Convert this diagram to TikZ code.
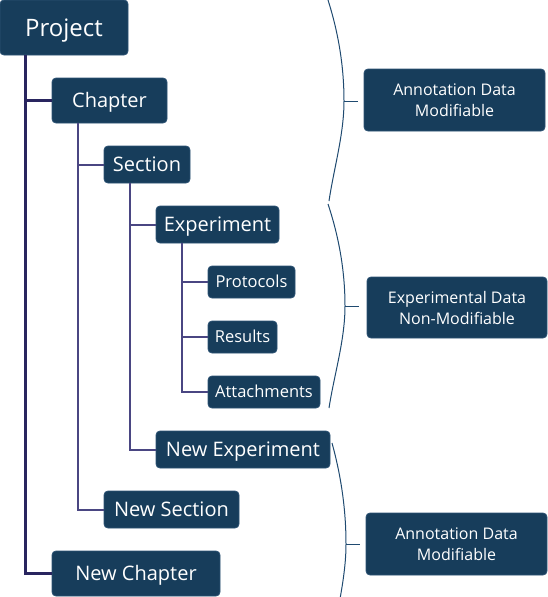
\documentclass[tikz,border=0pt]{standalone}
\usepackage{fontspec}
\setmainfont{Open Sans}
\definecolor{boxfill}{HTML}{173D5B}
\definecolor{boxline}{HTML}{2C5273}
\definecolor{trunkA}{HTML}{29255F}
\definecolor{trunkB}{HTML}{4A4682}
\definecolor{bracecol}{HTML}{1F4A70}
\begin{document}
\begin{tikzpicture}[x=1pt,y=-1pt,
  box/.style={fill=boxfill,draw=boxline,line width=0.8pt,rounded corners=4pt,text=white,inner sep=0pt,anchor=center,align=center},
  bigfont/.style={font=\fontsize{24}{28}\selectfont,text height=17.3pt,text depth=0pt},
  midfont/.style={font=\fontsize{20}{24}\selectfont,text height=14.4pt,text depth=0pt},
  smallfont/.style={font=\fontsize{16.5}{20}\selectfont,text height=11.9pt,text depth=0pt},
  annfont/.style={font=\fontsize{16}{21}\selectfont},
  linkA/.style={draw=trunkA,line width=2.8pt},
  linkB/.style={draw=trunkB,line width=2pt},
  bracestyle/.style={draw=bracecol,line width=1pt}]
\useasboundingbox (0,0) rectangle (548,597);

\node[box,bigfont,minimum width=128pt,minimum height=55pt] (project) at (64,27.5) {Project};
\node[box,midfont,minimum width=115pt,minimum height=45pt] (chapter) at (109.5,100.5) {Chapter};
\node[box,midfont,minimum width=86pt,minimum height=37pt] (section) at (147,164.5) {Section};
\node[box,midfont,minimum width=123pt,minimum height=37pt] (experiment) at (217.5,224.5) {Experiment};
\node[box,smallfont,minimum width=87pt,minimum height=32pt] (protocols) at (251.5,282) {Protocols};
\node[box,smallfont,minimum width=69pt,minimum height=32pt] (results) at (242.5,337) {Results};
\node[box,smallfont,minimum width=112pt,minimum height=32pt] (attachments) at (264,392) {Attachments};
\node[box,midfont,minimum width=174pt,minimum height=37pt] (newexp) at (243,449.5) {New Experiment};
\node[box,midfont,minimum width=135pt,minimum height=37pt] (newsec) at (171.5,509.5) {New Section};
\node[box,midfont,minimum width=168pt,minimum height=45pt] (newchap) at (136,573.5) {New Chapter};

\node[box,annfont,minimum width=181pt,minimum height=62pt] (ann1) at (454.5,100) {Annotation Data\\Modifiable};
\node[box,annfont,minimum width=180pt,minimum height=61pt] (ann2) at (457,307.5) {Experimental Data\\Non-Modifiable};
\node[box,annfont,minimum width=181pt,minimum height=62pt] (ann3) at (456.5,544) {Annotation Data\\Modifiable};

% trunks
\draw[linkA] ([xshift=26pt]project.south west) |- (chapter.west);
\draw[linkA] ([xshift=26pt]project.south west) |- (newchap.west);
\draw[linkB] ([xshift=26pt]chapter.south west) |- (section.west);
\draw[linkB] ([xshift=26pt]chapter.south west) |- (newsec.west);
\draw[linkB] ([xshift=26pt]section.south west) |- (experiment.west);
\draw[linkB] ([xshift=26pt]section.south west) |- (newexp.west);
\draw[linkB] ([xshift=26pt]experiment.south west) |- (protocols.west);
\draw[linkB] ([xshift=26pt]experiment.south west) |- (results.west);
\draw[linkB] ([xshift=26pt]experiment.south west) |- (attachments.west);

% braces
\coordinate (b1t) at (328,0);   \coordinate (b1a) at (344,101); \coordinate (b1b) at (329,201);
\coordinate (b2t) at (328,204); \coordinate (b2a) at (345,306); \coordinate (b2b) at (329,408);
\coordinate (b3t) at (332,443); \coordinate (b3a) at (346,544); \coordinate (b3b) at (332,645);
\coordinate (k1) at (358,101);
\coordinate (k2) at (359,306);
\coordinate (k3) at (360,544);

\draw[bracestyle] (b1t) .. controls (338.7,33.7) and (344,67.3) .. (b1a)
                        .. controls (344,134.3) and (334,167.7) .. (b1b);
\draw[bracestyle] (b1a) -- (k1);
\draw[bracestyle] (b2t) .. controls (339.3,238) and (345,272) .. (b2a)
                        .. controls (345,340) and (334.3,374) .. (b2b);
\draw[bracestyle] (b2a) -- (k2);
\begin{scope}
\clip (0,0) rectangle (548,597);
\draw[bracestyle] (b3t) .. controls (341.3,476.7) and (346,510.3) .. (b3a)
                        .. controls (346,577.7) and (336.7,611.3) .. (b3b);
\end{scope}
\draw[bracestyle] (b3a) -- (k3);
\end{tikzpicture}
\end{document}
